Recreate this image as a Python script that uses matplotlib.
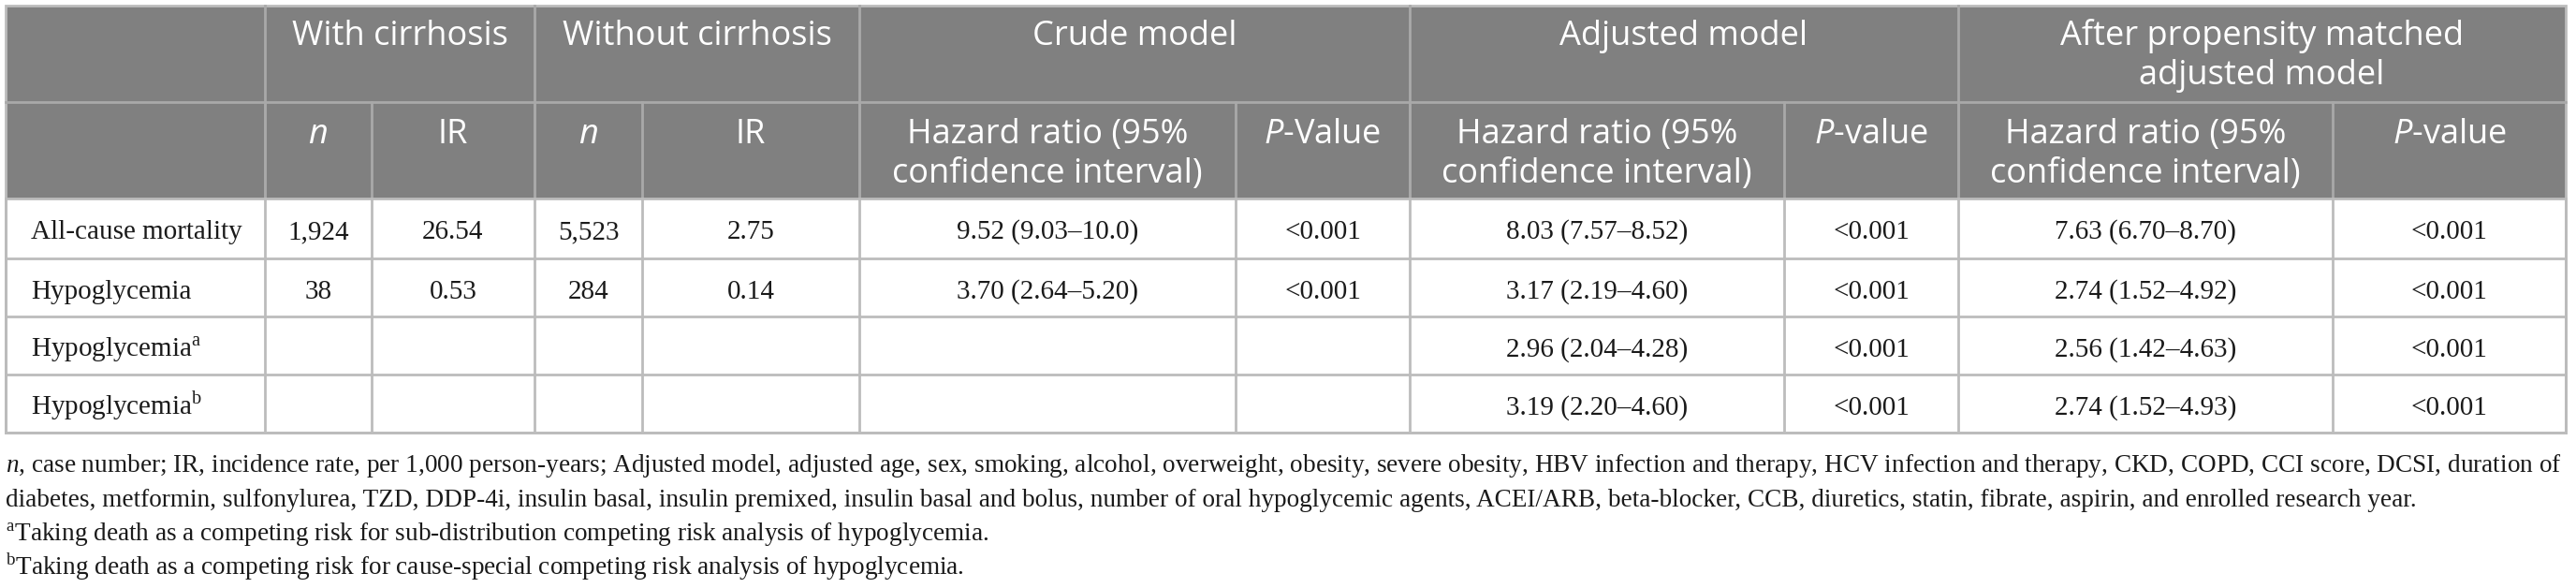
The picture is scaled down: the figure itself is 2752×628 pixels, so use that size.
import matplotlib
matplotlib.use("Agg")
import matplotlib.pyplot as plt
from matplotlib.patches import Rectangle

# --- DATA ---
group_titles = ["With cirrhosis", "Without cirrhosis", "Crude model", "Adjusted model",
                "After propensity matched\nadjusted model"]
sub_titles = ["n", "IR", "n", "IR",
              "Hazard ratio (95%\nconfidence interval)", r"$\mathit{P}$-Value",
              "Hazard ratio (95%\nconfidence interval)", r"$\mathit{P}$-value",
              "Hazard ratio (95%\nconfidence interval)", r"$\mathit{P}$-value"]
row_labels = ["All-cause mortality", "Hypoglycemia",
              r"Hypoglycemia$^{\mathrm{a}}$", r"Hypoglycemia$^{\mathrm{b}}$"]
n_with = ["1,924", "38", "", ""]
ir_with = ["26.54", "0.53", "", ""]
n_without = ["5,523", "284", "", ""]
ir_without = ["2.75", "0.14", "", ""]
crude_hr = ["9.52 (9.03–10.0)", "3.70 (2.64–5.20)", "", ""]
crude_p = ["<0.001", "<0.001", "", ""]
adj_hr = ["8.03 (7.57–8.52)", "3.17 (2.19–4.60)", "2.96 (2.04–4.28)", "3.19 (2.20–4.60)"]
adj_p = ["<0.001", "<0.001", "<0.001", "<0.001"]
psm_hr = ["7.63 (6.70–8.70)", "2.74 (1.52–4.92)", "2.56 (1.42–4.63)", "2.74 (1.52–4.93)"]
psm_p = ["<0.001", "<0.001", "<0.001", "<0.001"]
footnotes = [
    r"$\mathsf{n}$, case number; IR, incidence rate, per 1,000 person-years; Adjusted model, adjusted age, sex, smoking, "
    "alcohol, overweight, obesity, severe obesity, HBV infection and therapy, HCV infection and therapy, CKD, COPD, "
    "CCI score, DCSI, duration of",
    "diabetes, metformin, sulfonylurea, TZD, DDP-4i, insulin basal, insulin premixed, insulin basal and bolus, number "
    "of oral hypoglycemic agents, ACEI/ARB, beta-blocker, CCB, diuretics, statin, fibrate, aspirin, and enrolled research year.",
    r"$^{\mathrm{a}}$Taking death as a competing risk for sub-distribution competing risk analysis of hypoglycemia.",
    r"$^{\mathrm{b}}$Taking death as a competing risk for cause-special competing risk analysis of hypoglycemia.",
]

# --- LAYOUT (pixels) ---
W, H = 2752, 628
col_edges = [6, 283, 397, 571, 686, 918, 1320, 1506, 1906, 2092, 2492, 2741]
group_span = [(1, 3), (3, 5), (5, 7), (7, 9), (9, 11)]
row_edges = [6, 109, 212, 276, 338, 400, 462]
HEAD_BG = "#808080"
HEAD_LINE = "#a9a9a9"
BODY_LINE = "#bcbcbc"
TXT = "#1a1a1a"
SANS = "Open Sans"
SERIF = "Liberation Serif"

plt.rcParams["mathtext.fontset"] = "custom"
plt.rcParams["mathtext.rm"] = SERIF
plt.rcParams["mathtext.it"] = SANS + ":italic"
plt.rcParams["mathtext.sf"] = SERIF + ":italic"

fig = plt.figure(figsize=(W / 100, H / 100), dpi=100)
ax = fig.add_axes([0, 0, 1, 1])
ax.set_xlim(0, W)
ax.set_ylim(H, 0)
ax.axis("off")

# header background
ax.add_patch(Rectangle((col_edges[0], row_edges[0]), col_edges[-1] - col_edges[0],
                       row_edges[2] - row_edges[0], facecolor=HEAD_BG, edgecolor="none"))

lw = 2.0
# header lines
for c0, c1 in group_span:
    ax.plot([col_edges[c0], col_edges[c0]], [row_edges[0], row_edges[2]], color=HEAD_LINE, lw=lw)
for c in range(1, len(col_edges) - 1):
    ax.plot([col_edges[c], col_edges[c]], [row_edges[1], row_edges[2]], color=HEAD_LINE, lw=lw)
ax.plot([col_edges[0], col_edges[-1]], [row_edges[1], row_edges[1]], color=HEAD_LINE, lw=lw)

# body lines
for r in range(2, len(row_edges)):
    ax.plot([col_edges[0], col_edges[-1]], [row_edges[r], row_edges[r]], color=BODY_LINE, lw=lw)
for c in range(len(col_edges)):
    ax.plot([col_edges[c], col_edges[c]], [row_edges[2], row_edges[-1]], color=BODY_LINE, lw=lw)
# outer border
ax.add_patch(Rectangle((col_edges[0], row_edges[0]), col_edges[-1] - col_edges[0],
                       row_edges[-1] - row_edges[0], facecolor="none", edgecolor=BODY_LINE, lw=lw))

HFS = 26
line_gap = 42

# group titles
for (c0, c1), title in zip(group_span, group_titles):
    xc = (col_edges[c0] + col_edges[c1]) / 2
    for i, line in enumerate(title.split("\n")):
        ax.text(xc, row_edges[0] + 42 + i * line_gap, line, ha="center", va="baseline",
                color="white", fontsize=HFS, family=SANS)

# sub titles
for j, title in enumerate(sub_titles):
    xc = (col_edges[j + 1] + col_edges[j + 2]) / 2
    style = "italic" if title == "n" else "normal"
    for i, line in enumerate(title.split("\n")):
        ax.text(xc, row_edges[1] + 44 + i * line_gap, line, ha="center", va="baseline",
                color="white", fontsize=HFS, family=SANS, style=style)

# body
BFS = 21
columns = [n_with, ir_with, n_without, ir_without, crude_hr, crude_p, adj_hr, adj_p, psm_hr, psm_p]
for r, label in enumerate(row_labels):
    yb = row_edges[r + 2] + 43
    ax.text(col_edges[0] + 27, yb, label, ha="left", va="baseline", color=TXT,
            fontsize=BFS, family=SERIF)
    for j, col in enumerate(columns):
        xc = (col_edges[j + 1] + col_edges[j + 2]) / 2
        ax.text(xc, yb, col[r], ha="center", va="baseline", color=TXT,
                fontsize=BFS, family=SERIF)

# footnotes
FFS = 19.6
foot_base = [504, 541, 578, 614]
for yb, note in zip(foot_base, footnotes):
    ax.text(6, yb, note, ha="left", va="baseline", color=TXT, fontsize=FFS, family=SERIF)

fig.savefig("out.png", dpi=100, facecolor="white")
